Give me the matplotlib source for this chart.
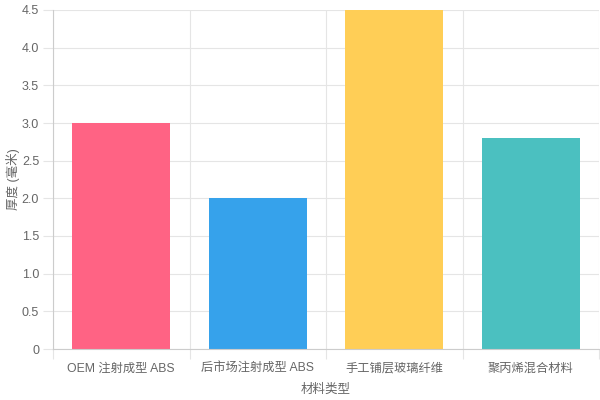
import numpy as np
import matplotlib
matplotlib.use("Agg")
import matplotlib.pyplot as plt

plt.rcParams['font.family'] = ['Liberation Sans', 'Noto Sans CJK SC', 'DejaVu Sans']

# DATA
materials = ["OEM 注射成型 ABS", "后市场注射成型 ABS", "手工铺层玻璃纤维", "聚丙烯混合材料"]
thickness = [3.0, 2.0, 4.5, 2.8]
bar_colors = ["#FF6384", "#36A2EB", "#FFCE56", "#4BC0C0"]
y_ticks = [0, 0.5, 1.0, 1.5, 2.0, 2.5, 3.0, 3.5, 4.0, 4.5]
y_tick_labels = ["0", "0.5", "1.0", "1.5", "2.0", "2.5", "3.0", "3.5", "4.0", "4.5"]

grid_color = "#e5e5e5"
text_color = "#666666"

fig = plt.figure(figsize=(6, 4), dpi=100)
ax = fig.add_axes([53 / 600, 51 / 400, 546 / 600, 339 / 400])

x = np.arange(len(materials))
ax.bar(x, thickness, width=0.72, color=bar_colors, zorder=2)

ax.set_xlim(-0.5, len(materials) - 0.5)
ax.set_ylim(0, 4.5)

# grid lines on category boundaries, labels at centers
ax.set_xticks(np.arange(len(materials) + 1) - 0.5)
ax.set_xticklabels([])
ax.set_xticks(x, minor=True)
ax.set_xticklabels(materials, minor=True, fontsize=8.8, color=text_color,
                   family=['Liberation Sans', 'Noto Sans CJK SC'])
ax.tick_params(axis="x", which="major", length=7, color=grid_color)
ax.tick_params(axis="x", which="minor", length=0, pad=10)

ax.set_yticks(y_ticks)
ax.set_yticklabels(y_tick_labels, fontsize=9, color=text_color)
ax.tick_params(axis="y", length=7, color=grid_color, pad=3)

ax.grid(True, which="major", color=grid_color, linewidth=0.8, zorder=0)
ax.set_axisbelow(True)
for side in ["top", "right"]:
    ax.spines[side].set_visible(False)
for side in ["left", "bottom"]:
    ax.spines[side].set_color("#cccccc")
    ax.spines[side].set_linewidth(0.8)

ax.set_xlabel("材料类型", fontsize=9, color=text_color,
              family=['Noto Sans CJK SC'])
ax.set_ylabel("厚度 (毫米)", fontsize=9, color=text_color,
              family=['Liberation Sans', 'Noto Sans CJK SC'])
ax.xaxis.set_label_coords(0.5, -34 / 339)
ax.yaxis.set_label_coords(-33 / 546, 0.5)

fig.savefig("out.png", dpi=100)
